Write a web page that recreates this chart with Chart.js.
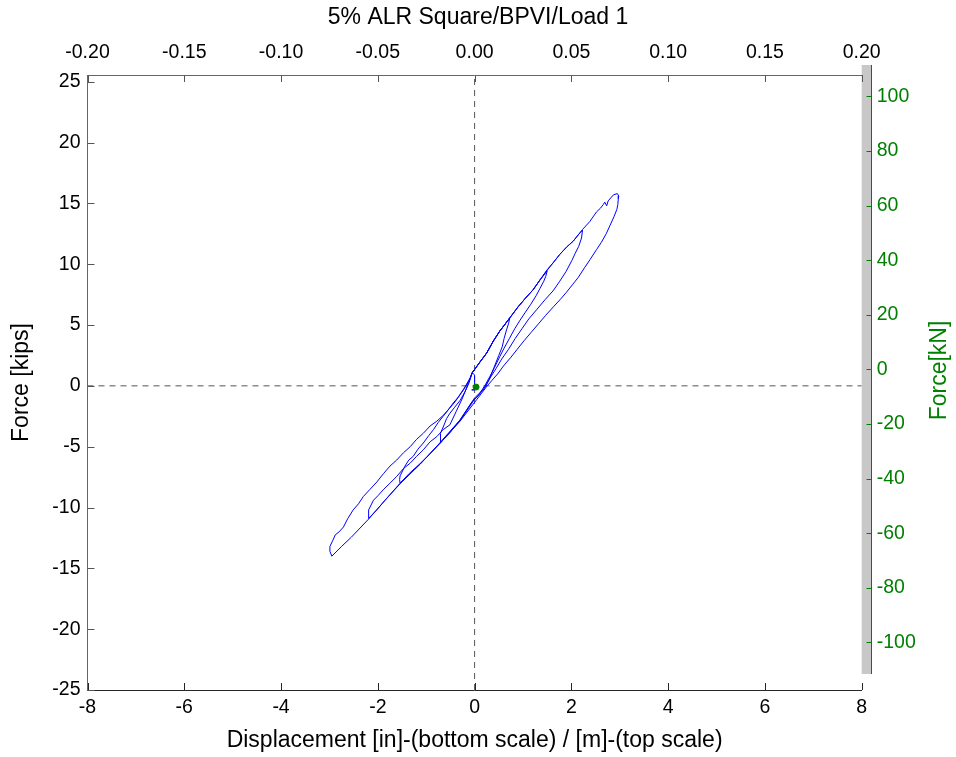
<!DOCTYPE html>
<html>
<head>
<meta charset="utf-8">
<title>5% ALR Square/BPVI/Load 1</title>
<script src="https://cdn.jsdelivr.net/npm/chart.js@4.4.0/dist/chart.umd.min.js"></script>
<style>
  html, body { margin: 0; padding: 0; background: #fff; }
  #wrap { width: 956px; height: 757px; }
</style>
</head>
<body>
<div id="wrap"><canvas id="loopChart" width="956" height="757"></canvas></div>
<script>
/* ------------------------------
   Data: displacement [in], force [kips]
---------------------------------*/
var bottomTicks = [-8, -6, -4, -2, 0, 2, 4, 6, 8];
var topTicks = [-0.2, -0.15, -0.1, -0.05, 0, 0.05, 0.1, 0.15, 0.2];
var leftTicks = [-25, -20, -15, -10, -5, 0, 5, 10, 15, 20, 25];
var rightTicks = [-100, -80, -60, -40, -20, 0, 20, 40, 60, 80, 100];

var startPoint = [0.03, -0.1];
var startTrace = [[0.03, -0.1], [0.0, -0.33], [-0.06, -0.33], [0.0, -0.33], [0.0, 0.9], [-0.05, 1.07]];

var cycle1 = [
  [0.1, 1.9], [0.25, 2.7], [0.39, 3.7], [0.52, 4.5], [0.62, 5.0], [0.73, 5.6],
  [0.70, 5.1], [0.66, 4.6], [0.61, 3.9], [0.57, 3.2], [0.50, 2.5], [0.44, 1.9], [0.37, 1.2],
  [0.30, 0.5], [0.22, -0.1], [0.1, -0.6], [0.0, -1.0], [-0.15, -1.9], [-0.3, -2.8], [-0.5, -3.8], [-0.71, -4.7],
  [-0.71, -4.3], [-0.70, -3.9], [-0.64, -3.3], [-0.58, -2.7], [-0.51, -2.25], [-0.42, -1.8],
  [-0.3, -1.2], [-0.2, -0.5], [-0.12, 0.2], [-0.05, 1.07]
];

var cycle2 = [
  [0.1, 1.9], [0.25, 2.7], [0.39, 3.7], [0.52, 4.5], [0.73, 5.6], [0.9, 6.5], [1.05, 7.2],
  [1.21, 7.9], [1.35, 8.7], [1.50, 9.45],
  [1.47, 9.0], [1.43, 8.6], [1.35, 8.0], [1.27, 7.4], [1.16, 6.7], [1.04, 6.0], [0.94, 5.4],
  [0.83, 4.7], [0.72, 3.9], [0.61, 3.1], [0.52, 2.4], [0.41, 1.5], [0.32, 0.8], [0.23, 0.15],
  [0.08, -0.8], [-0.05, -1.3], [-0.3, -2.8], [-0.71, -4.65], [-0.95, -5.7], [-1.13, -6.4],
  [-1.35, -7.2], [-1.54, -8.0],
  [-1.55, -7.7], [-1.54, -7.4], [-1.44, -6.6], [-1.36, -6.1], [-1.27, -5.8], [-1.17, -5.2],
  [-1.06, -4.7], [-0.95, -4.1], [-0.85, -3.6], [-0.75, -3.0], [-0.65, -2.5], [-0.55, -2.0],
  [-0.44, -1.4], [-0.33, -0.9], [-0.23, -0.33], [-0.1, 0.5], [-0.05, 1.07]
];

var cycle3 = [
  [0.1, 1.9], [0.25, 2.7], [0.39, 3.7], [0.52, 4.5], [0.73, 5.6], [0.9, 6.5], [1.05, 7.2],
  [1.21, 7.9], [1.35, 8.7], [1.50, 9.5], [1.62, 10.1], [1.76, 10.8], [1.90, 11.4], [2.04, 11.9],
  [2.14, 12.4], [2.23, 12.8],
  [2.21, 12.15], [2.15, 11.45], [2.08, 10.9], [2.01, 10.3], [1.89, 9.4], [1.76, 8.6], [1.62, 7.8],
  [1.46, 7.1], [1.29, 6.3], [1.12, 5.5], [0.98, 4.7], [0.84, 3.9], [0.70, 3.0], [0.56, 2.2],
  [0.44, 1.4], [0.32, 0.65], [0.18, -0.33], [0.0, -1.1], [-0.3, -2.85], [-0.71, -4.7],
  [-1.13, -6.45], [-1.54, -8.0], [-1.85, -9.4], [-2.0, -10.1], [-2.19, -10.9],
  [-2.19, -10.5], [-2.19, -10.2], [-2.09, -9.4], [-1.99, -9.0], [-1.89, -8.55], [-1.75, -8.0],
  [-1.61, -7.45], [-1.47, -6.8], [-1.33, -6.35], [-1.2, -5.8], [-1.06, -5.26], [-0.92, -4.6],
  [-0.78, -4.17], [-0.65, -3.6], [-0.51, -3.2], [-0.38, -2.1], [-0.25, -1.0], [-0.12, 0.3], [-0.05, 1.07]
];

var cycle4 = [
  [0.1, 1.9], [0.25, 2.7], [0.39, 3.7], [0.52, 4.5], [0.73, 5.6], [0.9, 6.5], [1.05, 7.2],
  [1.21, 7.9], [1.35, 8.7], [1.49, 9.5], [1.62, 10.1], [1.76, 10.8], [1.90, 11.4], [2.04, 11.9],
  [2.23, 12.85], [2.38, 13.5], [2.52, 14.3], [2.60, 14.6], [2.66, 14.9], [2.69, 15.1], [2.73, 14.8],
  [2.76, 15.2], [2.87, 15.7], [2.95, 15.8], [2.98, 15.6],
  [2.97, 15.4], [2.96, 14.9], [2.94, 14.5], [2.88, 13.9], [2.80, 13.2], [2.72, 12.5], [2.62, 11.8],
  [2.52, 11.2], [2.39, 10.4], [2.27, 9.7], [2.14, 8.9], [2.02, 8.3], [1.9, 7.7], [1.77, 7.1],
  [1.63, 6.5], [1.47, 5.8], [1.32, 5.1], [1.17, 4.4], [1.02, 3.7], [0.88, 3.0], [0.74, 2.3],
  [0.61, 1.7], [0.48, 1.0], [0.36, 0.45], [0.26, 0.0], [0.04, -1.15], [-0.3, -2.9], [-0.71, -4.7],
  [-1.13, -6.45], [-1.54, -8.05], [-1.85, -9.4], [-2.19, -10.95], [-2.55, -12.45], [-2.75, -13.2],
  [-2.95, -14.0],
  [-2.99, -13.6], [-2.99, -13.2], [-2.93, -12.7], [-2.88, -12.25], [-2.80, -12.0], [-2.71, -11.6],
  [-2.62, -10.9], [-2.51, -10.2], [-2.40, -9.7], [-2.30, -9.1], [-2.16, -8.5], [-2.02, -7.9],
  [-1.88, -7.2], [-1.75, -6.6], [-1.61, -6.1], [-1.47, -5.5], [-1.33, -5.0], [-1.2, -4.4],
  [-1.06, -3.9], [-0.92, -3.3], [-0.78, -2.9], [-0.64, -2.4], [-0.52, -1.85], [-0.4, -1.3],
  [-0.3, -0.7], [-0.2, -0.1], [-0.1, 0.6], [-0.05, 1.07]
];

var yMinKips = -25, yMaxKips = 25.55;
var y2MinKN = -117.4, y2MaxKN = 107.8;

/*------------------------------------
* Helpers / plugin
------------------------------------ */
var green = "rgb(0,128,0)";
var fontFam = "'Liberation Sans', Arial, Helvetica, sans-serif";
var tickSize = 19.5, labelSize = 23;

function toPts(list) {
  return list.map(function (p) { return { x: p[0], y: p[1] }; });
}
function fixTicks(values) {
  return function (scale) {
    scale.ticks = values.map(function (v) { return { value: v }; });
  };
}

var loopPath = toPts([].concat(startTrace, cycle1, cycle2, cycle3, cycle4));

var matlabAxes = {
  id: "matlabAxes",
  beforeDraw: function (chart) {
    var ctx = chart.ctx, ca = chart.chartArea;
    ctx.save();
    ctx.fillStyle = "#fff";
    ctx.fillRect(0, 0, chart.width, chart.height);
    // grey strip of the kN axes
    ctx.fillStyle = "#c8c8c8";
    ctx.fillRect(ca.right, ca.top - 10, 10, ca.bottom - ca.top - 6);
    ctx.restore();
  },
  afterDraw: function (chart) {
    var ctx = chart.ctx, ca = chart.chartArea, s = chart.scales;
    var tl = 7;
    ctx.save();
    ctx.lineWidth = 1;
    // inner ticks, bottom axis
    ctx.strokeStyle = "#262626";
    ctx.beginPath();
    bottomTicks.forEach(function (v) {
      var px = Math.round(s.x.getPixelForValue(v)) + 0.5;
      ctx.moveTo(px, ca.bottom); ctx.lineTo(px, ca.bottom - tl);
    });
    ctx.stroke();
    // inner ticks, top and left axes
    ctx.strokeStyle = "#555";
    ctx.beginPath();
    topTicks.forEach(function (v) {
      var px = Math.round(s.x2.getPixelForValue(v)) + 0.5;
      ctx.moveTo(px, ca.top); ctx.lineTo(px, ca.top + tl);
    });
    leftTicks.forEach(function (v) {
      var py = Math.round(s.y.getPixelForValue(v)) + 0.5;
      ctx.moveTo(ca.left, py); ctx.lineTo(ca.left + tl, py);
    });
    ctx.stroke();
    // green kN axis line and ticks
    var gx = Math.round(ca.right + 10) - 0.5;
    ctx.strokeStyle = green;
    ctx.beginPath();
    ctx.moveTo(gx, ca.top - 10); ctx.lineTo(gx, ca.bottom - 16);
    rightTicks.forEach(function (v) {
      var py = Math.round(s.y2.getPixelForValue(v)) + 0.5;
      ctx.moveTo(gx, py); ctx.lineTo(gx - 5, py);
    });
    ctx.stroke();
    // right axis title, reading upward
    ctx.translate(940, (ca.top + ca.bottom) / 2 - 12);
    ctx.rotate(-Math.PI / 2);
    ctx.fillStyle = green;
    ctx.font = labelSize + "px " + fontFam;
    ctx.textAlign = "center";
    ctx.textBaseline = "middle";
    ctx.fillText("Force[kN]", 0, 0);
    ctx.restore();
  }
};

/*------------------------------------
* Chart
------------------------------------ */
Chart.defaults.font.family = fontFam;
Chart.defaults.color = "#000";

var loopChart = new Chart(document.getElementById("loopChart"), {
  type: "scatter",
  data: {
    datasets: [
      {
        label: "start",
        data: toPts([startPoint]),
        pointRadius: 3,
        pointBackgroundColor: green,
        pointBorderColor: green,
        showLine: false
      },
      {
        label: "Load 1",
        data: loopPath,
        showLine: true,
        borderColor: "rgb(0,0,255)",
        borderWidth: 1,
        pointRadius: 0,
        tension: 0,
        fill: false
      },
      {
        label: "zero x",
        data: [{ x: 0, y: yMinKips }, { x: 0, y: yMaxKips }],
        showLine: true,
        borderColor: "#555",
        borderWidth: 1,
        borderDash: [6, 5],
        pointRadius: 0
      },
      {
        label: "zero y",
        data: [{ x: bottomTicks[0], y: 0 }, { x: bottomTicks[bottomTicks.length - 1], y: 0 }],
        showLine: true,
        borderColor: "#555",
        borderWidth: 1,
        borderDash: [6, 5],
        pointRadius: 0
      }
    ]
  },
  options: {
    responsive: false,
    animation: false,
    devicePixelRatio: 1,
    layout: { padding: 0 },
    plugins: {
      legend: { display: false },
      tooltip: { enabled: false },
      title: {
        display: true,
        text: "5% ALR Square/BPVI/Load 1",
        color: "#000",
        font: { size: labelSize, weight: "normal" },
        padding: { top: 4, bottom: 6 }
      }
    },
    scales: {
      x: {
        type: "linear",
        position: "bottom",
        min: -8,
        max: 8,
        afterBuildTicks: fixTicks(bottomTicks),
        afterFit: function (scale) { scale.height = 67; },
        grid: { display: false, drawTicks: false },
        border: { display: true, color: "#262626", width: 1 },
        ticks: { autoSkip: false, maxRotation: 0, padding: 6, font: { size: tickSize }, color: "#000" },
        title: {
          display: true,
          text: "Displacement [in]-(bottom scale) / [m]-(top scale)",
          font: { size: labelSize },
          color: "#000",
          padding: { top: 0, bottom: 3 }
        }
      },
      x2: {
        type: "linear",
        position: "top",
        min: -0.2,
        max: 0.2,
        afterBuildTicks: fixTicks(topTicks),
        afterFit: function (scale) { scale.height = 37.4; },
        grid: { display: false, drawTicks: false },
        border: { display: true, color: "#666", width: 1 },
        ticks: {
          autoSkip: false, maxRotation: 0, padding: 11, font: { size: tickSize }, color: "#000",
          callback: function (v) { return Number(v).toFixed(2); }
        }
      },
      y: {
        type: "linear",
        position: "left",
        min: yMinKips,
        max: yMaxKips,
        afterBuildTicks: fixTicks(leftTicks),
        afterFit: function (scale) { scale.width = 87.5; },
        grid: { display: false, drawTicks: false },
        border: { display: true, color: "#666", width: 1 },
        ticks: { autoSkip: false, padding: 7, font: { size: tickSize }, color: "#000" },
        title: {
          display: true,
          text: "Force [kips]",
          font: { size: labelSize },
          color: "#000",
          padding: { top: 8, bottom: 0 }
        }
      },
      y2: {
        type: "linear",
        position: "right",
        min: y2MinKN,
        max: y2MaxKN,
        afterBuildTicks: fixTicks(rightTicks),
        afterFit: function (scale) { scale.width = 94.3; },
        grid: { display: false, drawTicks: false },
        border: { display: false },
        ticks: { autoSkip: false, padding: 15, font: { size: tickSize }, color: green }
      }
    }
  },
  plugins: [matlabAxes]
});
</script>
</body>
</html>
